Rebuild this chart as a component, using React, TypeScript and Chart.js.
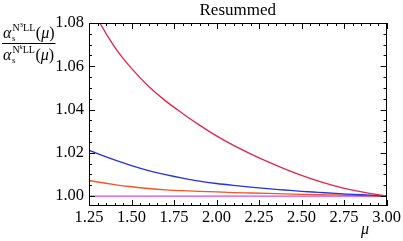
import React, { useEffect, useRef } from "react";
import { Chart, registerables } from "chart.js";

Chart.register(...registerables);

const mu = [1.25, 1.3, 1.4, 1.5, 1.6, 1.7, 1.8, 1.9, 2.0, 2.1, 2.2, 2.3, 2.4, 2.5, 2.6, 2.7, 2.8, 2.9, 3.0];
const redVals = [1.09, 1.082, 1.069, 1.059, 1.0508, 1.044, 1.0382, 1.0328, 1.0278, 1.0234, 1.0195, 1.0159, 1.0126, 1.0096, 1.0069, 1.0046, 1.0027, 1.0012, 1.0];
const blueVals = [1.0212, 1.0196, 1.0167, 1.0141, 1.0118, 1.0099, 1.0083, 1.0069, 1.0058, 1.0049, 1.0041, 1.0034, 1.0028, 1.0022, 1.0017, 1.0012, 1.0008, 1.0004, 1.0];
const orangeVals = [1.0072, 1.0065, 1.0053, 1.0043, 1.0035, 1.0029, 1.0025, 1.0022, 1.0019, 1.0016, 1.0014, 1.0012, 1.001, 1.0008, 1.0006, 1.0005, 1.0003, 1.0001, 1.0];
const magentaVals = [1.0, 1.0, 1.0, 1.0, 1.0, 1.0, 1.0, 1.0, 1.0, 1.0, 1.0, 1.0, 1.0, 1.0, 1.0, 1.0, 1.0, 1.0, 1.0];

const xTicks = [1.25, 1.5, 1.75, 2.0, 2.25, 2.5, 2.75, 3.0];
const yTicks = [1.0, 1.02, 1.04, 1.06, 1.08];
const titleText = "Resummed";
const xLabel = "μ";

const SERIF = "'Liberation Serif', 'DejaVu Serif', serif";

const pts = (vals: number[]) => vals.map((v, i) => ({ x: mu[i], y: v }));

const framePlugin = {
  id: "frame",
  afterDraw(chart: any) {
    const { ctx, chartArea: a, scales } = chart;
    const xs = scales.x;
    const ys = scales.y;
    ctx.save();
    ctx.strokeStyle = "#000";
    ctx.lineWidth = 1;
    ctx.strokeRect(Math.round(a.left) + 0.5, Math.round(a.top) + 0.5, Math.round(a.right - a.left) - 1, Math.round(a.bottom - a.top) - 1);
    ctx.beginPath();
    for (let i = 0; i <= 35; i++) {
      const v = 1.25 + i * 0.05;
      const px = Math.round(xs.getPixelForValue(v)) + 0.5;
      const major = i % 5 === 0;
      const len = major ? 6 : 3;
      ctx.moveTo(px, a.bottom);
      ctx.lineTo(px, a.bottom - len);
      ctx.moveTo(px, a.top);
      ctx.lineTo(px, a.top + len);
    }
    for (let i = 0; i <= 16; i++) {
      const v = 1.0 + i * 0.005;
      const py = Math.round(ys.getPixelForValue(v)) + 0.5;
      const major = i % 4 === 0;
      const len = major ? 6 : 3;
      ctx.moveTo(a.left, py);
      ctx.lineTo(a.left + len, py);
      ctx.moveTo(a.right, py);
      ctx.lineTo(a.right - len, py);
    }
    ctx.stroke();

    ctx.fillStyle = "#000";
    ctx.font = `17px ${SERIF}`;
    ctx.textAlign = "center";
    ctx.textBaseline = "alphabetic";
    ctx.fillText(titleText, (a.left + a.right) / 2, 14.5);
    ctx.font = `italic 16px ${SERIF}`;
    ctx.textAlign = "left";
    ctx.fillText(xLabel, 361, 234);

    const drawPart = (text: string, x: number, y: number, font: string) => {
      ctx.font = font;
      ctx.textAlign = "left";
      ctx.fillText(text, x, y);
      return x + ctx.measureText(text).width;
    };
    const drawRow = (base: number, exp: string, expItalic: boolean) => {
      let x = 3;
      x = drawPart("α", x, base, `italic 16px ${SERIF}`);
      const subEnd = drawPart("s", x + 0.5, base + 3, `9px ${SERIF}`);
      let sx = x + 1;
      sx = drawPart("N", sx, base - 7, `10px ${SERIF}`);
      sx = drawPart(exp, sx, base - 11, `${expItalic ? "italic " : ""}7px ${SERIF}`);
      sx = drawPart("LL", sx, base - 7, `10px ${SERIF}`);
      let px = Math.max(subEnd, sx) + 0.5;
      px = drawPart("(", px, base, `16px ${SERIF}`);
      px = drawPart("μ", px, base, `italic 16px ${SERIF}`);
      px = drawPart(")", px, base, `16px ${SERIF}`);
      return px;
    };
    const e1 = drawRow(38, "3", false);
    const e2 = drawRow(60, "k", true);
    ctx.beginPath();
    ctx.moveTo(2, 43.5);
    ctx.lineTo(Math.max(e1, e2) + 1, 43.5);
    ctx.stroke();
    ctx.restore();
  },
};

export default function App() {
  const ref = useRef<HTMLCanvasElement>(null);
  useEffect(() => {
    if (!ref.current) return;
    const mk = (label: string, vals: number[], color: string) => ({
      label,
      data: pts(vals),
      borderColor: color,
      backgroundColor: color,
      borderWidth: 1.3,
      pointRadius: 0,
      cubicInterpolationMode: "monotone" as const,
      clip: 0,
    });
    const chart = new Chart(ref.current, {
      type: "line",
      data: {
        datasets: [
          mk("N3LL/LL", redVals, "#e8234a"),
          mk("N3LL/NLL", blueVals, "#2233e0"),
          mk("N3LL/NNLL", orangeVals, "#f05524"),
          mk("N3LL/N3LL", magentaVals, "#d24ae8"),
        ],
      },
      options: {
        animation: false,
        responsive: false,
        devicePixelRatio: 1,
        layout: { padding: { top: 23, right: 16, bottom: 0, left: 0 } },
        plugins: { legend: { display: false }, tooltip: { enabled: false }, title: { display: false } },
        scales: {
          x: {
            type: "linear",
            min: 1.25,
            max: 3.0,
            afterBuildTicks: (s: any) => {
              s.ticks = xTicks.map((v) => ({ value: v }));
            },
            afterFit: (s: any) => {
              s.height = 35;
            },
            grid: { display: false, drawTicks: false },
            border: { display: false },
            ticks: {
              autoSkip: false,
              maxRotation: 0,
              padding: 2,
              color: "#000",
              font: { family: SERIF, size: 16.5 },
              callback: (v: any) => Number(v).toFixed(2),
            },
          },
          y: {
            type: "linear",
            min: 0.9954,
            max: 1.08,
            afterBuildTicks: (s: any) => {
              s.ticks = yTicks.map((v) => ({ value: v }));
            },
            afterFit: (s: any) => {
              s.width = 89;
            },
            grid: { display: false, drawTicks: false },
            border: { display: false },
            ticks: {
              autoSkip: false,
              padding: 5,
              color: "#000",
              font: { family: SERIF, size: 16.5 },
              callback: (v: any) => Number(v).toFixed(2),
            },
          },
        },
      },
      plugins: [framePlugin],
    });
    return () => chart.destroy();
  }, []);
  return (
    <div style={{ position: "fixed", left: 0, top: 0, width: 403, height: 241, background: "#fff" }}>
      <canvas ref={ref} width={403} height={241} style={{ width: 403, height: 241 }} />
    </div>
  );
}
